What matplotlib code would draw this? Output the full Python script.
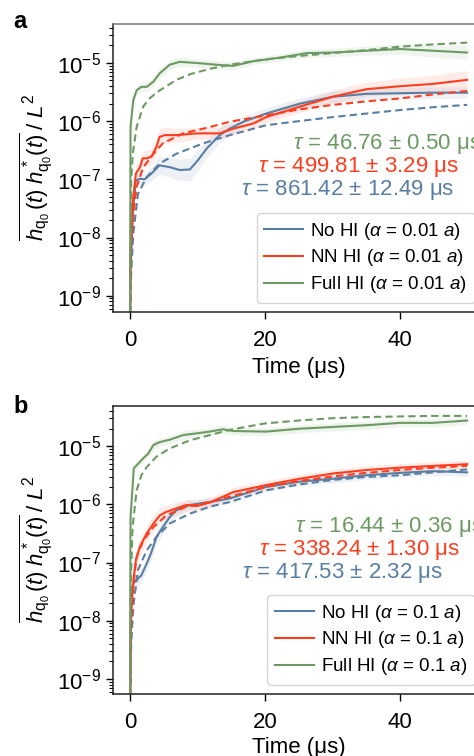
import numpy as np
import matplotlib
matplotlib.use("Agg")
import matplotlib.pyplot as plt

plt.rcParams['font.family'] = ['Liberation Sans', 'DejaVu Sans']
plt.rcParams['mathtext.fontset'] = 'custom'
plt.rcParams['mathtext.rm'] = 'Liberation Sans'
plt.rcParams['mathtext.it'] = 'Liberation Sans:italic'
plt.rcParams['mathtext.bf'] = 'Liberation Sans:bold'

# ---------------- data (log10 of the mean-square height) ----------------
series_names = ["No HI", "NN HI", "Full HI"]
alpha_labels = ["0.01", "0.1"]
tau_texts_a = ["46.76 ± 0.50", "499.81 ± 3.29", "861.42 ± 12.49"]
tau_texts_b = ["16.44 ± 0.36", "338.24 ± 1.30", "417.53 ± 2.32"]

# panel a
a_blue_t = [0, 0.1, 0.5, 0.89, 1.5, 2.2, 3.2, 4.4, 5.9, 7.4, 8.9, 10.1, 11.4, 13.3, 14.8, 17, 20.2, 25.2, 30.1, 35.1, 40, 45, 50]
a_blue_lv = [-10, -8.57, -7.48, -7.02, -6.99, -7.0, -6.9, -6.76, -6.79, -6.84, -6.83, -6.67, -6.47, -6.24, -6.13, -6.0, -5.87, -5.7, -5.58, -5.53, -5.52, -5.51, -5.51]
a_blue_bw = [0, 0.1, 0.1, 0.1, 0.1, 0.1, 0.12, 0.15, 0.17, 0.19, 0.19, 0.18, 0.15, 0.13, 0.12, 0.1, 0.1, 0.1, 0.1, 0.1, 0.1, 0.1, 0.1]
a_red_t = [0, 0.1, 0.4, 0.89, 1.5, 1.9, 2.5, 3.2, 3.95, 4.4, 5.2, 6.9, 9.9, 13.3, 15.3, 18.3, 20.2, 25.2, 30.1, 35.1, 40, 44.9, 50]
a_red_lv = [-10, -8.28, -7.41, -6.9, -6.79, -6.64, -6.64, -6.61, -6.44, -6.27, -6.24, -6.24, -6.21, -6.21, -6.13, -6.04, -5.93, -5.75, -5.58, -5.45, -5.4, -5.36, -5.29]
a_red_bw = [0, 0.1, 0.12, 0.14, 0.14, 0.14, 0.14, 0.14, 0.14, 0.14, 0.14, 0.12, 0.1, 0.1, 0.1, 0.1, 0.1, 0.1, 0.11, 0.12, 0.14, 0.15, 0.16]
a_green_t = [0, 0.1, 0.5, 1, 1.7, 2.5, 3.5, 4.4, 5.9, 7.4, 9.9, 12.8, 15.3, 18.3, 22.7, 26.2, 30.1, 35, 40, 45, 50]
a_green_lv = [-10, -6.1, -5.64, -5.47, -5.41, -5.41, -5.32, -5.18, -5.03, -4.98, -5.0, -5.03, -5.05, -4.97, -4.9, -4.83, -4.82, -4.79, -4.76, -4.79, -4.82]
a_green_bw = [0, 0.05, 0.08, 0.08, 0.08, 0.08, 0.08, 0.08, 0.08, 0.08, 0.07, 0.07, 0.07, 0.06, 0.06, 0.07, 0.07, 0.08, 0.09, 0.11, 0.12]

a_blue_fit_t = [0.02, 0.2, 0.5, 1.2, 2.5, 4.4, 6.9, 10.9, 14.8, 20.2, 25, 30.1, 35, 40, 45, 50]
a_blue_fit_lv = [-9.5, -8.6, -7.94, -7.25, -6.96, -6.73, -6.56, -6.38, -6.24, -6.07, -6.0, -5.93, -5.87, -5.81, -5.76, -5.72]
a_red_fit_t = [0.02, 0.15, 0.4, 1, 2, 3.5, 4.9, 7.9, 11.9, 14.8, 20.2, 25, 30.1, 35, 40, 45, 50]
a_red_fit_lv = [-9.5, -8.3, -7.71, -7.13, -6.79, -6.56, -6.38, -6.21, -6.1, -6.01, -5.9, -5.8, -5.72, -5.66, -5.61, -5.54, -5.48]
a_green_fit_t = [0.02, 0.2, 0.44, 1, 1.97, 3, 4.44, 6.9, 9, 11.9, 14.8, 20, 25, 30, 35, 40, 45, 50]
a_green_fit_lv = [-9.5, -7.0, -6.55, -6.1, -5.75, -5.6, -5.47, -5.29, -5.19, -5.10, -5.03, -4.94, -4.88, -4.83, -4.78, -4.72, -4.68, -4.65]

# panel b
b_blue_t = [0, 0.15, 0.27, 0.5, 1, 1.7, 2.5, 3.2, 3.95, 4.9, 5.9, 6.9, 8.9, 11.85, 14.8, 20.2, 25.2, 30.1, 35.1, 40, 44.9, 50]
b_blue_lv = [-10, -8.2, -7.47, -7.36, -7.3, -7.22, -7.02, -6.82, -6.56, -6.39, -6.22, -6.1, -6.01, -5.96, -5.9, -5.7, -5.61, -5.56, -5.5, -5.46, -5.43, -5.45]
b_blue_bw = [0, 0.05, 0.1, 0.1, 0.12, 0.12, 0.12, 0.12, 0.12, 0.12, 0.1, 0.1, 0.09, 0.08, 0.08, 0.07, 0.07, 0.07, 0.07, 0.07, 0.07, 0.07]
b_red_t = [0, 0.15, 0.27, 0.4, 0.58, 0.89, 1.48, 2.5, 3.5, 4.44, 5.4, 6.9, 8.4, 9.9, 11.85, 13.8, 15.3, 20.2, 25.2, 30.1, 35.1, 40, 44.9, 50]
b_red_lv = [-10, -8.0, -7.65, -7.53, -7.25, -6.96, -6.73, -6.5, -6.33, -6.19, -6.13, -6.07, -6.01, -6.03, -5.97, -5.87, -5.79, -5.67, -5.56, -5.47, -5.41, -5.37, -5.34, -5.31]
b_red_bw = [0, 0.05, 0.1, 0.12, 0.14, 0.14, 0.14, 0.14, 0.14, 0.13, 0.12, 0.11, 0.1, 0.1, 0.09, 0.08, 0.08, 0.08, 0.07, 0.07, 0.07, 0.07, 0.07, 0.07]
b_green_t = [0, 0.1, 0.4, 0.58, 1, 1.48, 1.97, 2.7, 3.5, 4.44, 5.9, 7.9, 9.9, 11.85, 13.8, 15.3, 20.2, 25.2, 30.1, 35.1, 40, 44.9, 50]
b_green_lv = [-10, -6.21, -5.70, -5.38, -5.33, -5.27, -5.21, -5.13, -4.98, -4.93, -4.89, -4.81, -4.78, -4.75, -4.71, -4.74, -4.75, -4.7, -4.67, -4.64, -4.6, -4.6, -4.56]
b_green_bw = [0, 0.04, 0.06, 0.07, 0.07, 0.07, 0.07, 0.07, 0.07, 0.07, 0.07, 0.07, 0.07, 0.07, 0.07, 0.07, 0.07, 0.07, 0.07, 0.07, 0.07, 0.07, 0.07]

b_blue_fit_t = [0.02, 0.2, 0.5, 1.2, 2.5, 3.95, 5.9, 8.9, 11.85, 14.8, 20.2, 25, 30.1, 35, 40, 45, 50]
b_blue_fit_lv = [-9.5, -8.4, -7.76, -7.13, -6.79, -6.56, -6.33, -6.16, -6.04, -5.96, -5.76, -5.66, -5.58, -5.53, -5.5, -5.45, -5.4]
b_red_fit_t = [0.02, 0.15, 0.5, 1, 2, 3.5, 5.4, 8.4, 11.85, 14.8, 20.2, 25, 30.1, 35, 40, 45, 50]
b_red_fit_lv = [-9.5, -8.2, -7.42, -6.9, -6.62, -6.39, -6.19, -6.04, -5.96, -5.87, -5.7, -5.6, -5.52, -5.46, -5.41, -5.37, -5.34]
b_green_fit_t = [0.02, 0.15, 0.4, 1, 1.7, 2.5, 3.95, 5.9, 8.9, 11.85, 14.8, 20, 25, 30, 35, 40, 45, 50]
b_green_fit_lv = [-9.5, -7.3, -6.39, -5.76, -5.5, -5.36, -5.18, -5.04, -4.9, -4.81, -4.72, -4.61, -4.56, -4.52, -4.5, -4.49, -4.48, -4.48]

x_ticks = [0, 20, 40]

# ---------------- style ----------------
colors = ['#587ea3', '#ff3d1e', '#6c9a62']

fig = plt.figure(figsize=(4.74, 7.56), dpi=100)
W, H = 474.0, 756.0
ax_a = fig.add_axes([113 / W, 1 - 312 / H, (484 - 113) / W, (312 - 24) / H])
ax_b = fig.add_axes([113 / W, 1 - 694 / H, (484 - 113) / W, (694 - 406) / H])

panels = [
    (ax_a, 'a', alpha_labels[0], tau_texts_a,
     [(a_blue_t, a_blue_lv, a_blue_bw), (a_red_t, a_red_lv, a_red_bw), (a_green_t, a_green_lv, a_green_bw)],
     [(a_blue_fit_t, a_blue_fit_lv), (a_red_fit_t, a_red_fit_lv), (a_green_fit_t, a_green_fit_lv)],
     (10 ** -9.28, 10 ** -4.33),
     [(293, 144), (258, 167), (241, 190)], 28, 4, '#777777'),
    (ax_b, 'b', alpha_labels[1], tau_texts_b,
     [(b_blue_t, b_blue_lv, b_blue_bw), (b_red_t, b_red_lv, b_red_bw), (b_green_t, b_green_lv, b_green_bw)],
     [(b_blue_fit_t, b_blue_fit_lv), (b_red_fit_t, b_red_fit_lv), (b_green_fit_t, b_green_fit_lv)],
     (10 ** -9.26, 10 ** -4.31),
     [(295, 527), (259, 550), (242, 573)], 413, 3, '#222222'),
]

ylabel = r'$\overline{h_{\mathrm{q}_0}\,(t)\;h^*_{\mathrm{q}_0}(t)}\;/\;L^2$'

for ax, letter, alab, taus, solids, fits, ylim, tau_pos, base_px, xlpad, topc in panels:
    handles = []
    for i, ((t, lv, bw), (ft, flv)) in enumerate(zip(solids, fits)):
        t = np.array(t); lv = np.array(lv); bw = np.array(bw)
        ax.fill_between(t, 10 ** (lv - bw), 10 ** (lv + bw), color=colors[i], alpha=0.1, lw=0)
        h, = ax.plot(t, 10 ** lv, color=colors[i], lw=1.5,
                     label=f'{series_names[i]} ($\\alpha$ = {alab} $a$)')
        handles.append(h)
        ax.plot(ft, 10 ** np.array(flv), color=colors[i], lw=1.5, ls=(0, (3.5, 2)))
    ax.set_yscale('log')
    ax.set_ylim(*ylim)
    ax.set_xlim(-2.5, 52.5)
    ax.set_xticks(x_ticks)
    ax.set_yticks([1e-9, 1e-8, 1e-7, 1e-6, 1e-5])
    ax.yaxis.set_minor_locator(matplotlib.ticker.LogLocator(base=10, subs=np.arange(2, 10)))
    ax.yaxis.set_minor_formatter(matplotlib.ticker.NullFormatter())
    ax.tick_params(axis='both', which='major', labelsize=16, length=5, width=1, direction='out')
    ax.tick_params(axis='x', which='major', pad=8)
    ax.tick_params(axis='y', which='minor', length=3, width=0.8)
    for sp in ax.spines.values():
        sp.set_linewidth(1.1)
        sp.set_color('#222222')
    ax.spines['top'].set_color(topc)
    ax.set_xlabel('Time (μs)', fontsize=16, labelpad=xlpad)
    ax.set_ylabel(ylabel, fontsize=16, labelpad=2)
    leg = ax.legend(handles=handles, loc='lower right', fontsize=13.5, handlelength=2.08,
                    labelspacing=0.3, borderpad=0.4, handletextpad=0.37, borderaxespad=0.5)
    # tau labels
    for k in range(3):
        i = 2 - k
        x_px, y_px = tau_pos[k]
        fig.text(x_px / W, 1 - y_px / H, r'$\tau$' + ' = ' + taus[k] + ' μs',
                 color=colors[i], fontsize=16, ha='left', va='center')
    fig.text(13 / W, 1 - base_px / H, letter, fontsize=17, fontweight='bold',
             ha='left', va='baseline')

fig.savefig('out.png', dpi=100)
